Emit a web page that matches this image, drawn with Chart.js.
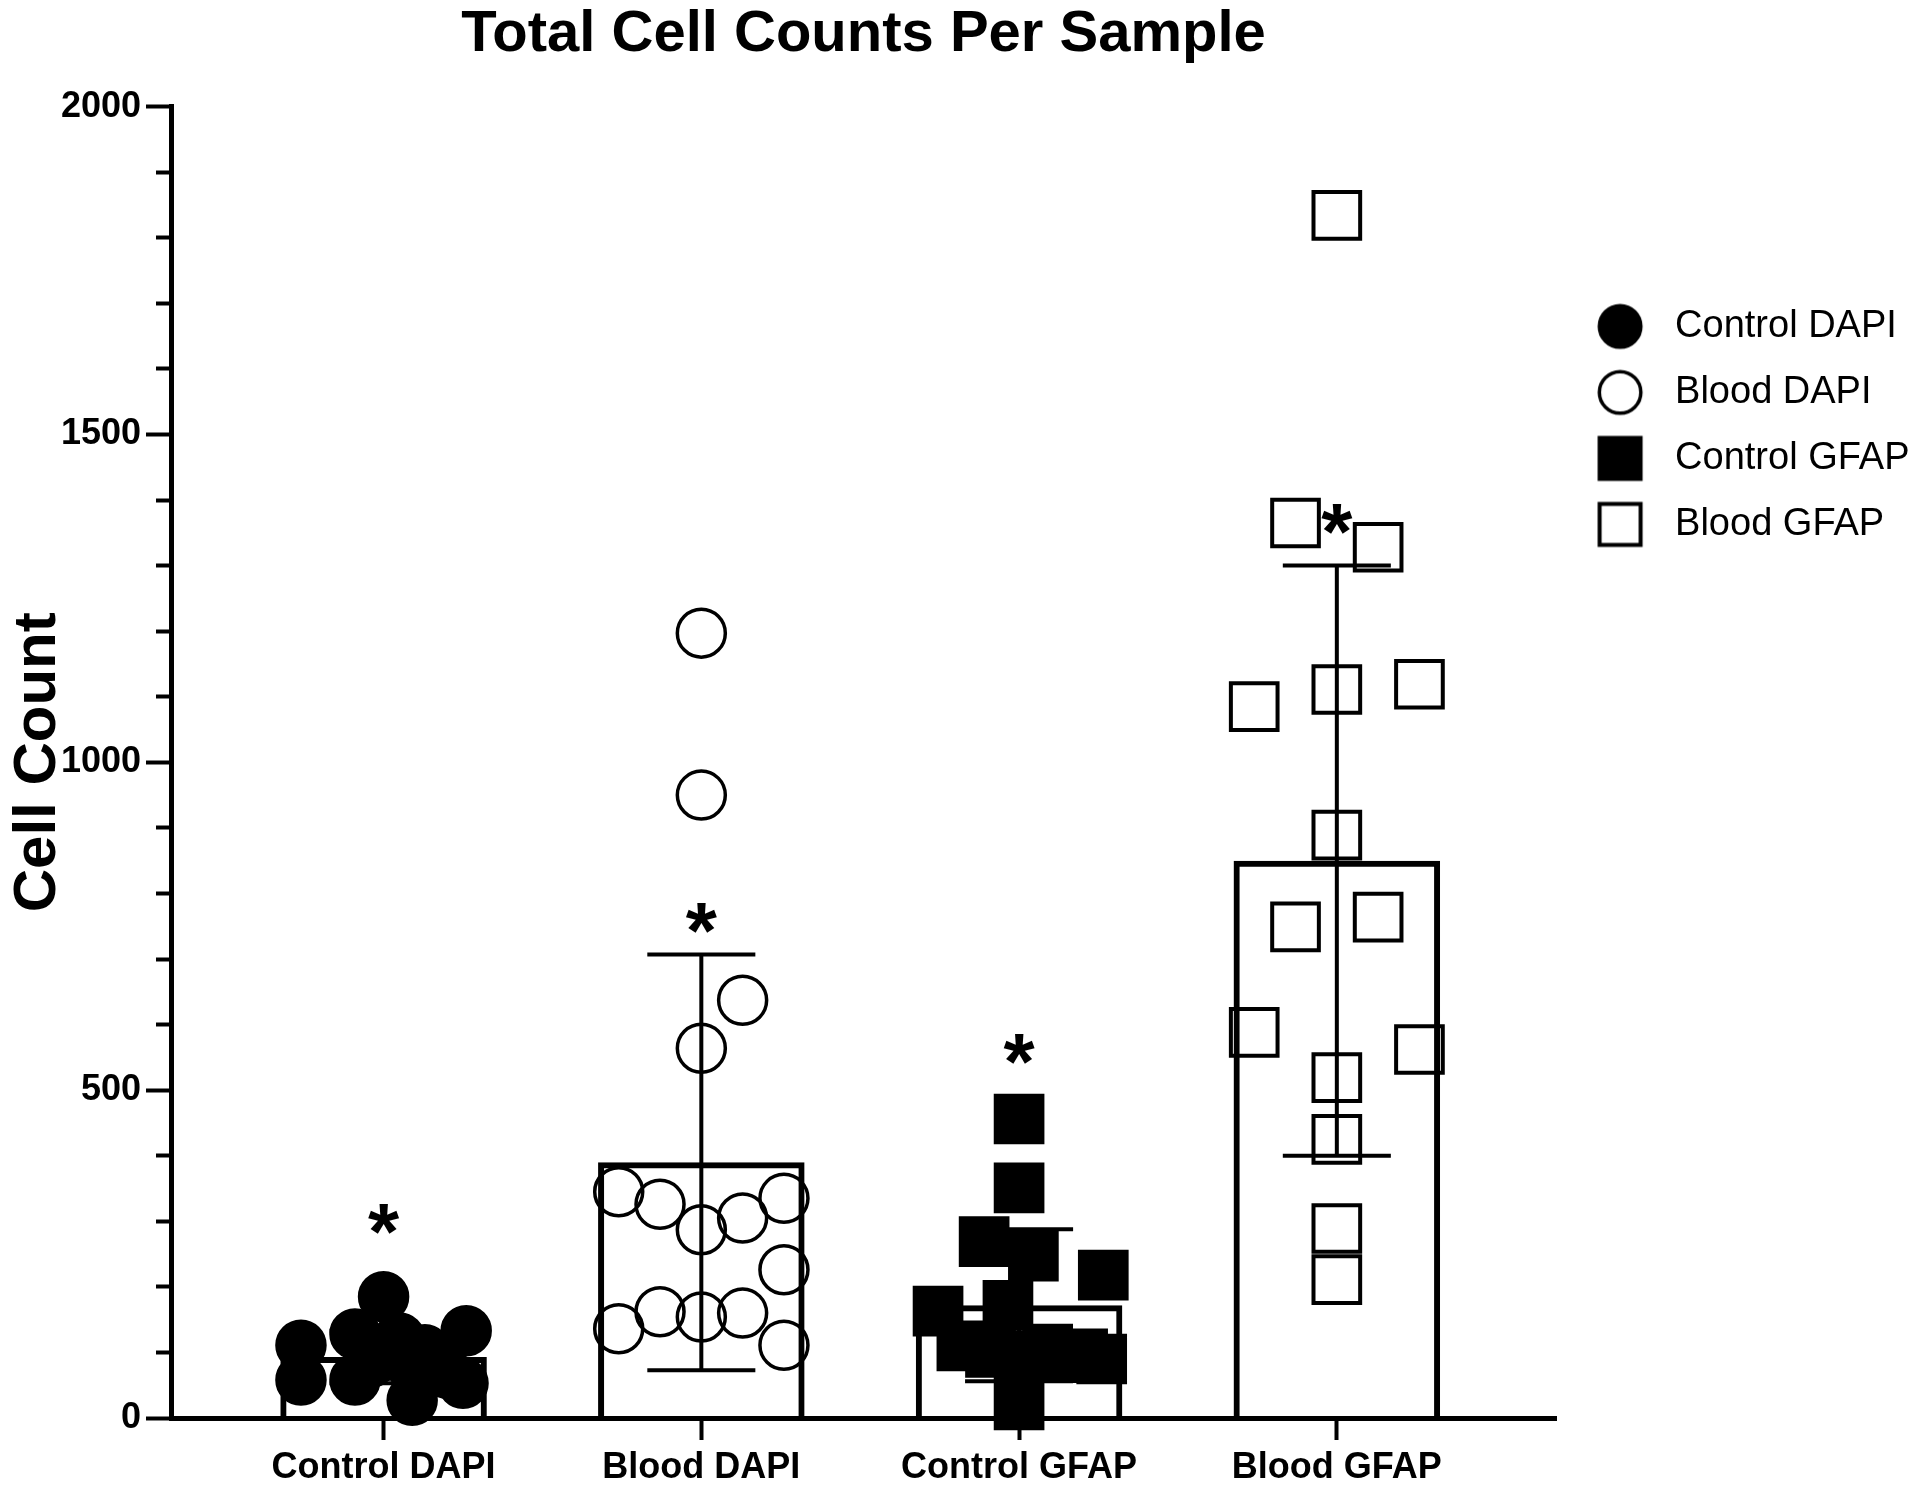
<!DOCTYPE html>
<html>
<head>
<meta charset="utf-8">
<title>Total Cell Counts Per Sample</title>
<script src="https://cdn.jsdelivr.net/npm/chart.js@4.4.1/dist/chart.umd.min.js"></script>
<style>
  html, body { margin: 0; padding: 0; background: #fff; }
  #wrap { width: 1920px; height: 1492px; }
</style>
</head>
<body>
<div id="wrap"><canvas id="cellChart" width="1920" height="1492"></canvas></div>
<script>
const groups = ['Control DAPI', 'Blood DAPI', 'Control GFAP', 'Blood GFAP'];
const yTicks = [0, 500, 1000, 1500, 2000];

// individual samples (x = offset from the group centre)
const ctrlDapi  = [185, 111, 128, 133, 58, 58, 27, 53, 122, 104, 95, 90, 85, 78, 68];
const ctrlDapiX = [0, -0.26, -0.09, 0.26, -0.26, -0.09, 0.09, 0.25, 0.05, 0.13, 0, 0.18, -0.04, 0.09, 0.2];
const bloodDapi  = [1197, 950, 637, 564, 345, 326, 287, 305, 335, 226, 136, 162, 154, 160, 111];
const bloodDapiX = [0, 0, 0.13, 0, -0.26, -0.13, 0, 0.13, 0.26, 0.26, -0.26, -0.13, 0, 0.13, 0.26];
const ctrlGfap  = [456, 351, 269, 247, 218, 163, 172, 20, 110, 100, 95, 105, 92, 98, 90];
const ctrlGfapX = [0, 0, -0.11, 0.045, 0.265, -0.255, -0.035, 0, -0.18, -0.09, 0, 0.09, 0.13, 0.2, 0.26];
const bloodGfap  = [1834, 1365, 1328, 1085, 1111, 1119, 889, 749, 764, 588, 562, 519, 425, 289, 211];
const bloodGfapX = [0, -0.13, 0.13, -0.26, 0, 0.26, 0, -0.13, 0.13, -0.26, 0.26, 0, 0, 0, 0];

// bar heights (mean), error bars (SD) and the asterisk heights
const means = [93, 390, 172, 850];
const sds = [40, 317, 116, 450];
const starAt = [304, 762, 562, 1371];

const FONT = '"Liberation Sans", Arial, Helvetica, sans-serif';
Chart.defaults.font.family = FONT;
Chart.defaults.color = '#000';

const pts = (vals, xs, i) => vals.map((v, k) => ({ x: i + xs[k], y: v }));

function marker(shape, filled) {
  const c = document.createElement('canvas');
  c.width = 50; c.height = 50;
  const g = c.getContext('2d');
  g.lineWidth = shape === 'circle' ? 3.5 : 4;
  g.strokeStyle = '#000';
  g.fillStyle = filled ? '#000' : '#fff';
  g.beginPath();
  if (shape === 'circle') g.arc(25, 25, 20.75, 0, Math.PI * 2);
  else g.rect(4.5, 4.5, 41, 41);
  g.fill();
  g.stroke();
  return c;
}
const legendMarks = [marker('circle', true), marker('circle', false), marker('rect', true), marker('rect', false)];

// SD whiskers, drawn right after the bars so the points sit on top
const errorBars = {
  id: 'errorBars',
  afterDatasetDraw(chart, args) {
    if (args.index !== 0) return;
    const { ctx, scales: { x, y } } = chart;
    ctx.save();
    ctx.strokeStyle = '#000';
    ctx.lineWidth = 4;
    means.forEach((m, i) => {
      const cx = x.getPixelForValue(i);
      const half = x.getPixelForValue(i + 0.17) - cx;
      const top = y.getPixelForValue(m + sds[i]);
      const bot = y.getPixelForValue(Math.max(m - sds[i], 0));
      ctx.beginPath();
      ctx.moveTo(cx, top); ctx.lineTo(cx, bot);
      ctx.moveTo(cx - half, top); ctx.lineTo(cx + half, top);
      ctx.moveTo(cx - half, bot); ctx.lineTo(cx + half, bot);
      ctx.stroke();
    });
    ctx.restore();
  }
};

const stars = {
  id: 'stars',
  afterDatasetsDraw(chart) {
    const { ctx, scales: { x, y } } = chart;
    ctx.save();
    ctx.font = 'bold 80px ' + FONT;
    ctx.fillStyle = '#000';
    ctx.textAlign = 'center';
    ctx.textBaseline = 'alphabetic';
    const m = ctx.measureText('*');
    const shift = (m.actualBoundingBoxAscent - m.actualBoundingBoxDescent) / 2;
    starAt.forEach((v, i) => ctx.fillText('*', x.getPixelForValue(i), y.getPixelForValue(v) + shift));
    ctx.restore();
  }
};

new Chart(document.getElementById('cellChart'), {
  type: 'scatter',
  data: {
    datasets: [
      {
        type: 'bar', label: 'Mean',
        data: means.map((m, i) => ({ x: i, y: m })),
        backgroundColor: 'rgba(255,255,255,0)', borderColor: '#000', borderWidth: 6,
        barPercentage: 0.65, categoryPercentage: 1, order: 5
      },
      {
        label: groups[0], data: pts(ctrlDapi, ctrlDapiX, 0),
        pointStyle: 'circle', pointRadius: 24, backgroundColor: '#000', borderColor: '#000', borderWidth: 3.5, order: 1
      },
      {
        label: groups[1], data: pts(bloodDapi, bloodDapiX, 1),
        pointStyle: 'circle', pointRadius: 24, backgroundColor: 'rgba(255,255,255,0)', borderColor: '#000', borderWidth: 3.5, order: 2
      },
      {
        label: groups[2], data: pts(ctrlGfap, ctrlGfapX, 2),
        pointStyle: 'rect', pointRadius: 33, backgroundColor: '#000', borderColor: '#000', borderWidth: 4, order: 3
      },
      {
        label: groups[3], data: pts(bloodGfap, bloodGfapX, 3),
        pointStyle: 'rect', pointRadius: 33, backgroundColor: 'rgba(255,255,255,0)', borderColor: '#000', borderWidth: 4, order: 4
      }
    ]
  },
  options: {
    responsive: false,
    animation: false,
    events: [],
    clip: false,
    layout: { padding: { top: 0, left: 0, bottom: 0, right: 0.5 } },
    scales: {
      x: {
        type: 'linear', min: -0.669, max: 3.69, offset: false,
        afterBuildTicks: s => { s.ticks = groups.map((_, i) => ({ value: i })); },
        afterFit: s => { s.height = 74; },
        ticks: { callback: v => groups[v], font: { size: 36, weight: 'bold' }, color: '#000', padding: 6, autoSkip: false, maxRotation: 0 },
        grid: { offset: false, drawOnChartArea: false, tickLength: 22, tickWidth: 4, tickColor: '#000' },
        border: { width: 5, color: '#000' }
      },
      y: {
        min: 0, max: 2000,
        afterFit: s => { s.width = 171; },
        ticks: {
          stepSize: 100, autoSkip: false, padding: 5,
          callback: v => yTicks.includes(v) ? v : '',
          font: { size: 36, weight: 'bold' }, color: '#000'
        },
        grid: {
          drawOnChartArea: false, tickLength: 25, tickWidth: 4, tickColor: '#000',
          tickBorderDash: c => yTicks.includes(c.tick.value) ? [] : [15, 10],
          tickBorderDashOffset: 15
        },
        border: { width: 5, color: '#000' },
        title: {
          display: true, text: 'Cell Count', color: '#000',
          font: { size: 60, weight: 'bold', lineHeight: 1 },
          padding: { top: 8, bottom: 0 }
        }
      }
    },
    plugins: {
      tooltip: { enabled: false },
      title: {
        display: true, text: 'Total Cell Counts Per Sample', color: '#000', fullSize: false,
        font: { size: 58, weight: 'bold' },
        padding: { top: 0, bottom: 37 }
      },
      legend: {
        position: 'right',
        align: 'start',
        title: { display: true, text: '', padding: { top: 265, bottom: 0 } },
        labels: {
          usePointStyle: true, pointStyleWidth: 72, padding: 28, color: '#000',
          font: { size: 38 },
          generateLabels: () => groups.map((g, i) => ({
            text: g, pointStyle: legendMarks[i], fillStyle: '#000', strokeStyle: '#000',
            lineWidth: 0, hidden: false, datasetIndex: i + 1, fontColor: '#000'
          }))
        }
      }
    }
  },
  plugins: [errorBars, stars]
});
</script>
</body>
</html>
